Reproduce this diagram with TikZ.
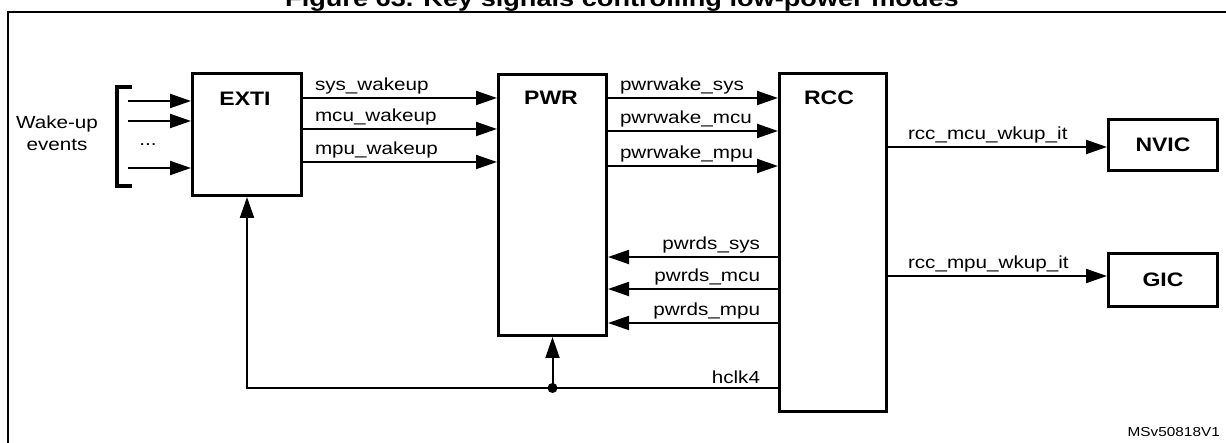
\documentclass[tikz,border=0pt]{standalone}
\usepackage{fontspec}
\setmainfont{Liberation Sans}[FakeStretch=1.18]
\usetikzlibrary{arrows.meta}
\tikzset{
  blk/.style={draw, line width=3pt, anchor=north west, inner sep=0pt},
  blklbl/.style={font=\fontsize{19.5}{23}\selectfont\bfseries, inner sep=0pt},
  sig/.style={line width=2pt, -{Triangle[length=21pt,width=14pt]}},
  wire/.style={line width=2pt},
  lblL/.style={font=\fontsize{17.5}{21}\selectfont, anchor=south west, inner sep=0pt, yshift=3pt},
  lblR/.style={font=\fontsize{17.5}{21}\selectfont, anchor=south east, inner sep=0pt, yshift=3pt},
  plain/.style={font=\fontsize{17.5}{22}\selectfont, inner sep=0pt},
}
\begin{document}
\begin{tikzpicture}[x=1pt,y=-1pt]
\clip (0,0) rectangle (1226,443);
\useasboundingbox (0,0) rectangle (1226,443);
% title and frame
\node[font=\fontsize{23}{27}\selectfont\bfseries, anchor=base, inner sep=0pt] (title) at (622,7) {Figure 63. Key signals controlling low-power modes};
\draw[line width=2.5pt] (8,460) -- (8,12) -- (1240,12);
% blocks
\node[blk, minimum width=109pt, minimum height=122pt] (exti) at (191,72) {};
\node[blk, minimum width=108pt, minimum height=261pt] (pwr) at (497,73) {};
\node[blk, minimum width=107pt, minimum height=338pt] (rcc) at (778,72) {};
\node[blk, minimum width=109pt, minimum height=51pt] (nvic) at (1107,118) {};
\node[blk, minimum width=109pt, minimum height=53pt] (gic) at (1107,252) {};
\node[blklbl] (extil) at (245,99) {EXTI};
\node[blklbl] (pwrl) at (551,98) {PWR};
\node[blklbl] (rccl) at (829,98) {RCC};
\node[blklbl] (nvicl) at (nvic.center) {NVIC};
\node[blklbl] (gicl) at (gic.center) {GIC};
% wake-up events
\node[plain, align=center] (wue) at (57,133) {Wake-up\\events};
\draw[line width=4pt] (132,87) -- (117,87) -- (117,186) -- (132,186);
\coordinate (in1) at (128,101);
\coordinate (in2) at (128,121);
\coordinate (in3) at (128,168);
\draw[sig] (in1) -- (exti.west |- in1);
\draw[sig] (in2) -- (exti.west |- in2);
\draw[sig] (in3) -- (exti.west |- in3);
\node[plain] (dots) at (148,145) {...};
% EXTI -> PWR
\draw[sig] (exti.east |- 0,98) -- (pwr.west |- 0,98) node[pos=0, lblL, xshift=11pt] {sys\_wakeup};
\draw[sig] (exti.east |- 0,129) -- (pwr.west |- 0,129) node[pos=0, lblL, xshift=11pt] {mcu\_wakeup};
\draw[sig] (exti.east |- 0,162) -- (pwr.west |- 0,162) node[pos=0, lblL, xshift=11pt] {mpu\_wakeup};
% PWR -> RCC
\draw[sig] (pwr.east |- 0,98) -- (rcc.west |- 0,98) node[pos=0, lblL, xshift=11pt] {pwrwake\_sys};
\draw[sig] (pwr.east |- 0,131) -- (rcc.west |- 0,131) node[pos=0, lblL, xshift=11pt] {pwrwake\_mcu};
\draw[sig] (pwr.east |- 0,166) -- (rcc.west |- 0,166) node[pos=0, lblL, xshift=11pt] {pwrwake\_mpu};
% RCC -> PWR
\draw[sig] (rcc.west |- 0,257) -- (pwr.east |- 0,257) node[pos=0, lblR, xshift=-17pt] {pwrds\_sys};
\draw[sig] (rcc.west |- 0,289) -- (pwr.east |- 0,289) node[pos=0, lblR, xshift=-17pt] {pwrds\_mcu};
\draw[sig] (rcc.west |- 0,323) -- (pwr.east |- 0,323) node[pos=0, lblR, xshift=-17pt] {pwrds\_mpu};
% RCC -> NVIC / GIC
\draw[sig] (rcc.east |- 0,147) -- (nvic.west |- 0,147) node[pos=0, lblL, xshift=19pt] {rcc\_mcu\_wkup\_it};
\draw[sig] (rcc.east |- 0,276) -- (gic.west |- 0,276) node[pos=0, lblL, xshift=19pt] {rcc\_mpu\_wkup\_it};
% hclk4
\coordinate (j) at (pwr.south |- 0,388);
\draw[sig] (rcc.west |- 0,388) -| (exti.south) node[pos=0, lblR, xshift=-17pt] {hclk4};
\fill (j) circle (5pt);
\draw[sig] (j) -- (pwr.south);
% id
\node[font=\fontsize{13}{16}\selectfont, anchor=east, inner sep=0pt] (msv) at (1220,432) {MSv50818V1};
\end{tikzpicture}
\end{document}
